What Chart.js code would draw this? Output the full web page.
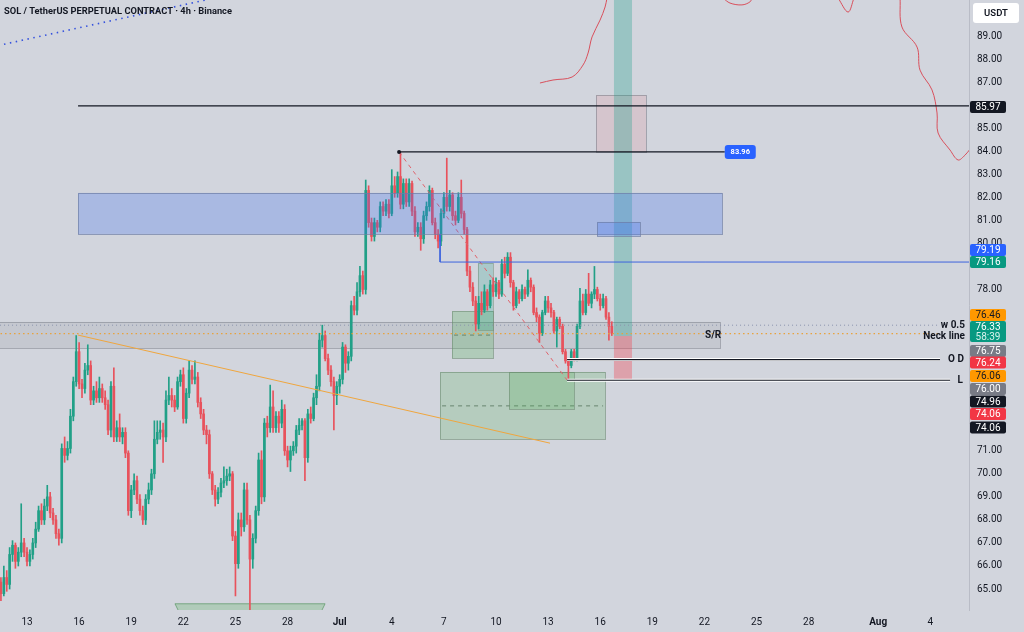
<!DOCTYPE html>
<html lang="en">
  <head>
    <meta charset="UTF-8" />
    <title>SOL / TetherUS PERPETUAL CONTRACT · 4h · Binance</title>
    <script src="https://cdn.jsdelivr.net/npm/chart.js"></script>
    <style>
      html, body { margin: 0; padding: 0; background: #d2d5dd; }
      #wrap { width: 1024px; height: 632px; }
    </style>
  </head>
  <body>
    <div id="wrap"><canvas id="chart" width="1024" height="632"></canvas></div>

    <script>
      // 4h candles, first one opens Jun 11 12:00 (x axis unit = day of June)
      const candleStartDay = 11.5;
      const candleStepDays = 1 / 6;

      const opens = [
        65.3, 64.8, 65.5, 65.2, 66.5, 66.9, 66.2, 66.6, 67.0, 66.6,
        66.2, 66.5, 67.0, 67.6, 68.4, 68.0, 68.6, 69.0, 68.3, 68.0,
        67.4, 67.2, 71.1, 70.8, 71.1, 72.5, 74.0, 75.3, 73.9, 73.7,
        74.5, 74.7, 73.2, 73.6, 73.3, 73.7, 73.3, 73.0, 71.9, 73.8,
        71.6, 72.0, 71.6, 71.8, 70.9, 68.4, 69.3, 69.7, 68.9, 68.4,
        68.0, 68.9, 69.3, 70.0, 71.5, 71.8, 71.9, 71.6, 73.2, 73.4,
        73.2, 72.9, 74.0, 74.3, 72.4, 73.5, 74.5, 74.1, 74.2, 73.1,
        72.6, 71.9, 71.7, 70.0, 69.3, 68.9, 69.2, 69.6, 69.7, 69.9,
        70.0, 67.3, 66.1, 68.0, 67.7, 69.3, 68.0, 66.3, 67.2, 68.4,
        70.6, 69.0, 72.2, 72.0, 72.9, 72.0, 72.5, 72.2, 72.8, 71.0,
        70.6, 71.0, 71.2, 71.9, 72.1, 72.3, 70.7, 72.6, 72.4, 73.3,
        73.8, 75.8, 76.0, 75.0, 74.5, 74.0, 73.4, 73.8, 74.1, 75.5,
        74.8, 75.1, 77.3, 77.1, 77.9, 78.6, 78.0, 82.3, 80.9, 80.3,
        80.9, 80.7, 81.6, 81.4, 81.7, 81.3, 82.5, 82.2, 82.9, 81.7,
        82.6, 81.8, 82.6, 81.4, 80.5, 80.7, 80.2, 81.2, 81.6, 82.3,
        80.9, 80.4, 80.1, 81.3, 82.0, 81.6, 82.1, 81.2, 81.0, 82.0,
        81.3, 80.6, 78.8, 78.1, 77.5, 76.5, 77.4, 77.1, 77.9, 77.3,
        78.2, 77.9, 78.3, 77.8, 79.1, 78.7, 79.4, 78.3, 77.3, 77.9,
        77.6, 78.0, 77.8, 78.4, 78.1, 77.0, 76.8, 76.1, 77.0, 77.5,
        77.2, 77.0, 76.2, 76.7, 76.4, 75.3, 74.9, 74.7, 75.3, 75.0,
        76.4, 77.5, 77.0, 77.8, 77.4, 77.8, 78.0, 77.6, 77.3, 77.6,
        76.8, 76.4
      ];
      const highs = [
        65.5, 66.0, 65.8, 66.8, 67.1, 67.0, 66.8, 68.7, 67.2, 66.8,
        66.7, 67.2, 67.9, 68.6, 68.7, 68.9, 69.5, 69.2, 68.5, 68.2,
        67.6, 71.3, 71.6, 71.4, 72.8, 74.2, 76.0, 75.7, 74.1, 74.8,
        75.6, 74.9, 73.8, 74.0, 74.2, 73.9, 73.6, 73.2, 74.0, 74.6,
        72.3, 72.6, 72.0, 72.0, 71.0, 69.5, 70.0, 69.9, 69.1, 68.6,
        69.1, 69.6, 70.2, 72.3, 72.3, 72.3, 72.2, 73.6, 74.2, 73.7,
        73.4, 74.2, 74.5, 74.6, 73.7, 74.9, 74.7, 74.9, 74.4, 73.3,
        72.8, 72.1, 71.9, 70.1, 69.5, 69.4, 69.8, 70.3, 70.2, 70.3,
        70.1, 67.5, 68.3, 68.3, 69.6, 69.6, 68.2, 67.4, 68.6, 70.9,
        71.0, 72.4, 72.5, 73.85, 73.6, 72.7, 72.7, 73.2, 73.0, 71.2,
        71.2, 71.4, 72.1, 72.4, 72.4, 72.4, 72.8, 72.9, 73.5, 74.3,
        76.1, 76.45, 76.2, 75.2, 74.7, 74.2, 74.0, 74.3, 75.7, 75.6,
        75.3, 77.5, 77.7, 78.3, 79.0, 78.8, 82.75, 82.5, 81.1, 81.1,
        81.0, 81.8, 81.8, 81.9, 81.9, 83.2, 82.9, 83.1, 83.95, 82.8,
        82.8, 82.8, 82.7, 81.6, 80.9, 80.9, 81.4, 81.8, 82.5, 82.4,
        81.1, 80.6, 81.5, 82.2, 83.7, 82.3, 82.2, 81.4, 82.2, 82.75,
        81.4, 80.7, 79.0, 78.3, 77.7, 77.7, 77.9, 78.2, 78.0, 78.4,
        78.5, 78.5, 78.4, 79.3, 79.4, 79.6, 79.6, 78.4, 78.1, 78.0,
        78.2, 78.1, 78.85, 78.5, 78.2, 77.2, 76.9, 77.1, 77.7, 77.7,
        77.4, 77.1, 76.8, 76.8, 76.5, 75.4, 75.0, 75.4, 75.4, 76.5,
        78.05, 77.8, 78.0, 78.7, 77.9, 79.0, 78.1, 77.8, 77.8, 77.7,
        77.0, 76.6
      ];
      const lows = [
        64.5, 64.7, 64.9, 65.0, 66.2, 65.9, 66.0, 66.4, 66.4, 66.0,
        66.0, 66.3, 66.8, 67.5, 67.8, 67.8, 68.4, 68.1, 67.8, 67.2,
        66.9, 67.0, 70.5, 70.6, 70.9, 72.3, 73.8, 73.7, 73.3, 73.5,
        74.3, 73.0, 73.0, 73.1, 73.1, 73.1, 72.8, 71.7, 71.6, 71.4,
        71.4, 71.4, 71.3, 70.7, 68.2, 68.1, 69.1, 68.7, 68.2, 67.8,
        67.8, 68.7, 69.1, 69.8, 71.3, 71.5, 70.5, 71.4, 73.0, 72.9,
        72.7, 72.8, 73.8, 72.2, 72.2, 73.3, 73.9, 73.9, 72.9, 72.4,
        71.7, 71.3, 69.8, 69.1, 68.6, 68.7, 69.0, 69.4, 69.5, 69.7,
        67.1, 64.7, 65.9, 67.3, 67.5, 67.8, 64.1, 65.9, 67.0, 68.2,
        68.7, 68.8, 71.6, 71.8, 71.8, 71.8, 71.8, 72.0, 70.8, 70.3,
        70.1, 70.8, 70.9, 71.7, 71.9, 69.7, 70.5, 72.2, 72.3, 73.0,
        73.6, 75.5, 74.9, 74.3, 73.8, 71.9, 73.0, 73.5, 73.9, 74.4,
        74.5, 74.9, 76.9, 76.9, 77.7, 77.8, 77.8, 80.7, 80.1, 80.1,
        80.5, 80.5, 81.2, 81.2, 81.1, 81.2, 82.0, 82.0, 81.5, 81.5,
        81.6, 81.6, 81.2, 80.3, 80.3, 79.7, 80.0, 81.0, 81.4, 80.8,
        80.2, 79.8, 79.9, 81.1, 81.4, 81.4, 81.0, 80.8, 80.9, 81.1,
        80.4, 78.6, 77.9, 77.3, 76.2, 76.3, 76.9, 77.0, 77.1, 77.2,
        77.7, 77.7, 77.6, 77.7, 78.5, 78.6, 78.1, 77.1, 77.2, 77.4,
        77.5, 77.6, 77.7, 77.9, 76.9, 76.6, 75.7, 76.0, 76.9, 77.0,
        76.8, 76.1, 75.5, 76.3, 75.2, 74.8, 74.07, 74.6, 74.9, 74.9,
        76.3, 76.9, 76.9, 77.3, 77.2, 77.6, 77.5, 77.1, 77.2, 76.7,
        75.8, 76.0
      ];
      const closes = [
        64.8, 65.5, 65.2, 66.5, 66.9, 66.2, 66.6, 67.0, 66.6, 66.2,
        66.5, 67.0, 67.6, 68.4, 68.0, 68.6, 69.0, 68.3, 68.0, 67.4,
        67.2, 71.1, 70.8, 71.1, 72.5, 74.0, 75.3, 73.9, 73.7, 74.5,
        74.7, 73.2, 73.6, 73.3, 73.7, 73.3, 73.0, 71.9, 73.8, 71.6,
        72.0, 71.6, 71.8, 70.9, 68.4, 69.3, 69.7, 68.9, 68.4, 68.0,
        68.9, 69.3, 70.0, 71.5, 71.8, 71.9, 71.6, 73.2, 73.4, 73.2,
        72.9, 74.0, 74.3, 72.4, 73.5, 74.5, 74.1, 74.2, 73.1, 72.6,
        71.9, 71.7, 70.0, 69.3, 68.9, 69.2, 69.6, 69.7, 69.9, 70.0,
        67.3, 66.1, 68.0, 67.7, 69.3, 68.0, 66.3, 67.2, 68.4, 70.6,
        69.0, 72.2, 72.0, 72.9, 72.0, 72.5, 72.2, 72.8, 71.0, 70.6,
        71.0, 71.2, 71.9, 72.1, 72.3, 70.7, 72.6, 72.4, 73.3, 73.8,
        75.8, 76.0, 75.0, 74.5, 74.0, 73.4, 73.8, 74.1, 75.5, 74.8,
        75.1, 77.3, 77.1, 77.9, 78.6, 78.0, 82.3, 80.9, 80.3, 80.9,
        80.7, 81.6, 81.4, 81.7, 81.3, 82.5, 82.2, 82.9, 81.7, 82.6,
        81.8, 82.6, 81.4, 80.5, 80.7, 80.2, 81.2, 81.6, 82.3, 80.9,
        80.4, 80.1, 81.3, 82.0, 81.6, 82.1, 81.2, 81.0, 82.0, 81.3,
        80.6, 78.8, 78.1, 77.5, 76.5, 77.4, 77.1, 77.9, 77.3, 78.2,
        77.9, 78.3, 77.8, 79.1, 78.7, 79.4, 78.3, 77.3, 77.9, 77.6,
        78.0, 77.8, 78.4, 78.1, 77.0, 76.8, 76.1, 77.0, 77.5, 77.2,
        77.0, 76.2, 76.7, 76.4, 75.3, 74.9, 74.7, 75.3, 75.0, 76.4,
        77.5, 77.0, 77.8, 77.4, 77.8, 78.0, 77.6, 77.3, 77.6, 76.8,
        76.4, 76.1
      ];

      // axis ticks
      const xTickDays = [13, 16, 19, 22, 25, 28, 31, 34, 37, 40, 43, 46, 49, 52, 55, 58, 62, 65];
      const xTickLabels = ["13", "16", "19", "22", "25", "28", "Jul", "4", "7", "10", "13", "16", "19", "22", "25", "28", "Aug", "4"];
      const yTickValues = [65, 66, 67, 68, 69, 70, 71, 78, 80, 81, 82, 83, 84, 85, 87, 88, 89];

      // drawn price levels
      const levelTop = 85.97;
      const levelHigh = 83.97;
      const levelBlue = 79.19;
      const levelHalf = 76.45;
      const levelNeck = 76.08;
      const levelOD = 74.96;
      const levelL = 74.06;

      // trend / hand drawn lines, [day, price]
      const trendLine = [[15.94, 76.02], [43.11, 71.33]];
      const dropLine = [[34.42, 83.97], [44.09, 74.07]];
      const dottedRay = [[11.0, 88.53], [24.0, 90.68]];
      const redCurves = [
        [[42.53, 86.96], [43.28, 87.09], [44.38, 87.22], [45.01, 87.74], [45.30, 88.26], [45.53, 88.96], [45.99, 89.69], [46.28, 90.26], [46.39, 90.65]],
        [[53.07, 90.65], [53.47, 90.43], [54.16, 90.35], [54.62, 90.48], [54.74, 90.65]],
        [[59.69, 90.65], [60.27, 90.04], [60.61, 90.65]],
        [[63.26, 90.65], [63.37, 89.39], [64.24, 88.52], [64.41, 87.52], [65.10, 86.66], [65.39, 85.66], [65.45, 84.79], [66.14, 84.05], [66.60, 83.62], [67.0, 83.83], [67.3, 84.1]]
      ];

      // boxes: [fromDay, toDay, topPrice, bottomPrice]
      const srZone = [5, 52.9, 76.59, 75.46];
      const supplyZone = [15.94, 53.01, 82.19, 80.41];
      const smallBlueBox = [45.82, 48.29, 80.93, 80.32];
      const pinkBox = [45.76, 48.64, 86.44, 83.97];
      const targetBand = [46.79, 47.83, 95, 75.98];
      const stopBand = [46.79, 47.83, 75.98, 74.07];
      const greenBoxA = [37.47, 39.83, 77.06, 75.02];
      const greenBoxB = [38.96, 39.83, 79.15, 76.24];
      const greenBoxC = [36.78, 46.28, 74.42, 71.51];
      const greenBoxD = [40.75, 44.49, 74.42, 72.81];
      const bottomBand = [21.52, 30.16, 64.36, 64.05];

      // price tags on the right axis
      const priceTags = [
        { text: "85.97", bg: "#131722", fg: "#ffffff" },
        { text: "79.19", bg: "#2962ff", fg: "#ffffff" },
        { text: "79.16", bg: "#089981", fg: "#ffffff" },
        { text: "76.46", bg: "#ff9800", fg: "#131722" },
        { text: "76.33", bg: "#089981", fg: "#ffffff", sub: "58:39" },
        { text: "76.75", bg: "#787b86", fg: "#ffffff" },
        { text: "76.24", bg: "#f23645", fg: "#ffffff" },
        { text: "76.06", bg: "#ff9800", fg: "#131722" },
        { text: "76.00", bg: "#787b86", fg: "#ffffff" },
        { text: "74.96", bg: "#131722", fg: "#ffffff" },
        { text: "74.06", bg: "#f23645", fg: "#ffffff" },
        { text: "74.06", bg: "#131722", fg: "#ffffff" }
      ];
      const priceTagY = [107, 250, 262, 315, 327, 351, 362.5, 376, 389, 401.5, 414, 427.5];

      const FONT = "Roboto, 'Noto Sans', sans-serif";
      const BG = "#d2d5dd";
      const UP = "#21a087";
      const DOWN = "#e8525c";

      const candleDays = opens.map((_, i) => candleStartDay + i * candleStepDays);
      const candleColors = opens.map((o, i) => (closes[i] >= o ? UP : DOWN));

      const pts = (arr) => arr.map(([d, p]) => ({ x: d, y: p }));
      const hLine = (from, to, price) => [{ x: from, y: price }, { x: to, y: price }];

      function lineSet(data, color, width, extra) {
        return Object.assign(
          {
            type: "line",
            data: data,
            borderColor: color,
            borderWidth: width,
            pointRadius: 0,
            pointHoverRadius: 0,
            fill: false,
            order: 1,
          },
          extra || {}
        );
      }

      const datasets = [
        lineSet(hLine(15.94, 70, levelTop), "#131722", 1.3),
        lineSet(hLine(34.42, 53.17, levelHigh), "#131722", 1.3),
        lineSet([{ x: 36.78, y: supplyZone[3] }, { x: 36.78, y: levelBlue }, { x: 70, y: levelBlue }], "#3d63dd", 1),
        lineSet(hLine(44.09, 65.56, levelOD), "#ffffff", 3, { order: 2 }),
        lineSet(hLine(44.09, 65.56, levelOD), "#131722", 1.2),
        lineSet(hLine(44.09, 66.14, levelL), "#ffffff", 3, { order: 2 }),
        lineSet(hLine(44.09, 66.14, levelL), "#131722", 1.2),
        lineSet(hLine(5, 65.5, levelHalf), "#8a93ad", 1, { borderDash: [1, 3] }),
        lineSet(hLine(5, 65.6, levelNeck), "#e9a23b", 1.2, { borderDash: [1.5, 3] }),
        lineSet(pts(trendLine), "#f0a63e", 1),
        lineSet(pts(dropLine), "#e0636c", 1, { borderDash: [4, 4] }),
        lineSet(pts(dottedRay), "#3552de", 1.6, { borderDash: [1.5, 4.5] }),
        ...redCurves.map((c) => lineSet(pts(c), "#d9505c", 1, { tension: 0.35 })),
        {
          type: "bar",
          data: candleDays.map((d, i) => ({ x: d, y: [opens[i], closes[i]] })),
          backgroundColor: candleColors,
          barThickness: 2,
          minBarLength: 1,
          grouped: false,
          order: 10,
        },
        {
          type: "bar",
          data: candleDays.map((d, i) => ({ x: d, y: [lows[i], highs[i]] })),
          backgroundColor: candleColors,
          barThickness: 1,
          grouped: false,
          order: 11,
        },
      ];

      function box(ctx, x, y, b) {
        const x0 = x.getPixelForValue(b[0]);
        const x1 = x.getPixelForValue(b[1]);
        const y0 = y.getPixelForValue(b[2]);
        const y1 = y.getPixelForValue(b[3]);
        return [x0, y0, x1 - x0, y1 - y0];
      }

      function fillBox(ctx, r, fill, stroke) {
        ctx.fillStyle = fill;
        ctx.fillRect(r[0], r[1], r[2], r[3]);
        if (stroke) {
          ctx.strokeStyle = stroke;
          ctx.lineWidth = 1;
          ctx.strokeRect(Math.round(r[0]) + 0.5, Math.round(r[1]) + 0.5, Math.round(r[2]), Math.round(r[3]));
        }
      }

      function dashAcross(ctx, r, yPix, color) {
        ctx.save();
        ctx.strokeStyle = color;
        ctx.setLineDash([4, 4]);
        ctx.lineWidth = 1.2;
        ctx.beginPath();
        ctx.moveTo(r[0] + 2, yPix);
        ctx.lineTo(r[0] + r[2] - 2, yPix);
        ctx.stroke();
        ctx.restore();
      }

      const drawings = {
        id: "drawings",
        beforeDraw(chart) {
          const c = chart.ctx;
          c.save();
          c.fillStyle = BG;
          c.fillRect(0, 0, chart.width, chart.height);
          c.restore();
        },
        beforeDatasetsDraw(chart) {
          const { ctx, chartArea: a, scales } = chart;
          const x = scales.x, y = scales.y;
          ctx.save();
          ctx.beginPath();
          ctx.rect(a.left, a.top, a.right - a.left, a.bottom - a.top);
          ctx.clip();

          fillBox(ctx, box(ctx, x, y, srZone), "rgba(120,123,134,0.14)", "rgba(120,123,134,0.5)");
          fillBox(ctx, box(ctx, x, y, pinkBox), "rgba(242,54,69,0.10)", "rgba(120,123,134,0.55)");
          fillBox(ctx, box(ctx, x, y, targetBand), "rgba(8,153,129,0.28)");
          fillBox(ctx, box(ctx, x, y, stopBand), "rgba(242,54,69,0.33)");
          fillBox(ctx, box(ctx, x, y, greenBoxC), "rgba(76,175,80,0.22)", "rgba(110,140,115,0.6)");
          dashAcross(ctx, box(ctx, x, y, greenBoxC), y.getPixelForValue(72.95), "rgba(90,120,95,0.7)");
          fillBox(ctx, box(ctx, x, y, greenBoxD), "rgba(76,175,80,0.22)", "rgba(110,140,115,0.6)");
          fillBox(ctx, box(ctx, x, y, greenBoxA), "rgba(76,175,80,0.25)", "rgba(110,140,115,0.6)");
          dashAcross(ctx, box(ctx, x, y, greenBoxA), y.getPixelForValue(76.02), "rgba(90,120,95,0.7)");
          fillBox(ctx, box(ctx, x, y, greenBoxB), "rgba(8,153,129,0.2)", "rgba(110,140,115,0.5)");

          // bottom band with slanted ends
          const r = box(ctx, x, y, bottomBand);
          ctx.fillStyle = "rgba(76,175,80,0.25)";
          ctx.strokeStyle = "rgba(90,150,100,0.7)";
          ctx.beginPath();
          ctx.moveTo(r[0], r[1]);
          ctx.lineTo(r[0] + r[2], r[1]);
          ctx.lineTo(r[0] + r[2] - 4, r[1] + r[3] + 1);
          ctx.lineTo(r[0] + 4, r[1] + r[3] + 1);
          ctx.closePath();
          ctx.fill();
          ctx.stroke();
          ctx.restore();
        },
        afterDatasetsDraw(chart) {
          const { ctx, chartArea: a, scales } = chart;
          const x = scales.x, y = scales.y;
          ctx.save();
          ctx.beginPath();
          ctx.rect(a.left, a.top, a.right - a.left, a.bottom - a.top);
          ctx.clip();

          fillBox(ctx, box(ctx, x, y, supplyZone), "rgba(60,110,240,0.27)", "rgba(110,125,165,0.7)");
          fillBox(ctx, box(ctx, x, y, smallBlueBox), "rgba(60,110,240,0.27)", "rgba(110,125,165,0.7)");

          // swing high marker
          ctx.fillStyle = "#131722";
          ctx.beginPath();
          ctx.arc(x.getPixelForValue(34.42), y.getPixelForValue(levelHigh), 2, 0, Math.PI * 2);
          ctx.fill();

          // blue price pill at the end of the high line
          const px = x.getPixelForValue(53.17);
          const py = y.getPixelForValue(levelHigh);
          ctx.fillStyle = "#2962ff";
          ctx.beginPath();
          ctx.roundRect(px, py - 7, 31, 14, 3);
          ctx.fill();
          ctx.fillStyle = "#ffffff";
          ctx.font = "bold 7.5px " + FONT;
          ctx.textAlign = "center";
          ctx.textBaseline = "middle";
          ctx.fillText("83.96", px + 15.5, py + 0.5);

          ctx.fillStyle = "#131722";
          ctx.font = "bold 10px " + FONT;
          ctx.textAlign = "center";
          ctx.fillText("S/R", x.getPixelForValue(52.5), y.getPixelForValue(76.02));
          ctx.textAlign = "right";
          ctx.fillText("w 0.5", 965, y.getPixelForValue(levelHalf) + 0.5);
          ctx.fillText("Neck line", 965, y.getPixelForValue(76.0) + 1);
          ctx.fillText("O D", 964, y.getPixelForValue(levelOD));
          ctx.fillText("L", 963, y.getPixelForValue(levelL));
          ctx.restore();
        },
        afterDraw(chart) {
          const ctx = chart.ctx;
          ctx.save();
          ctx.textBaseline = "middle";

          ctx.font = "bold 9.3px " + FONT;
          ctx.fillStyle = "#131722";
          ctx.textAlign = "left";
          ctx.fillText("SOL / TetherUS PERPETUAL CONTRACT · 4h · Binance", 4, 12);

          // currency box
          ctx.fillStyle = "#ffffff";
          ctx.beginPath();
          ctx.roundRect(973, 3, 46, 20, 3);
          ctx.fill();
          ctx.fillStyle = "#131722";
          ctx.font = "600 9.5px " + FONT;
          ctx.textAlign = "center";
          ctx.fillText("USDT", 996, 13.5);

          ctx.font = "10px " + FONT;
          priceTags.forEach((t, i) => {
            const cy = priceTagY[i];
            const h = t.sub ? 21 : 12;
            ctx.fillStyle = t.bg;
            ctx.beginPath();
            ctx.roundRect(970, cy - 6, 36, h, 2);
            ctx.fill();
            ctx.fillStyle = t.fg;
            ctx.fillText(t.text, 988, cy + 0.5);
            if (t.sub) {
              ctx.fillStyle = "#d7f2ec";
              ctx.fillText(t.sub, 988, cy + 10.5);
            }
          });
          ctx.restore();
        },
      };

      new Chart(document.getElementById("chart"), {
        type: "bar",
        data: { datasets: datasets },
        options: {
          responsive: false,
          devicePixelRatio: 1,
          animation: false,
          layout: { padding: 0, autoPadding: false },
          plugins: { legend: { display: false }, tooltip: { enabled: false } },
          scales: {
            x: {
              type: "linear",
              min: 11.4456,
              max: 67.23,
              offset: false,
              grid: { display: false, drawTicks: false },
              border: { display: false },
              afterBuildTicks: (s) => { s.ticks = xTickDays.map((v) => ({ value: v })); },
              afterFit: (s) => {
                s.height = 22;
                s.paddingLeft = 0;
                s.paddingRight = 0;
              },
              ticks: {
                autoSkip: false,
                maxRotation: 0,
                padding: 6,
                color: "#131722",
                font: (c) => ({
                  family: FONT,
                  size: 10,
                  weight: c.tick && (c.tick.label === "Jul" || c.tick.label === "Aug") ? "bold" : "normal",
                }),
                callback: (v) => xTickLabels[xTickDays.indexOf(v)],
              },
            },
            y: {
              type: "linear",
              position: "right",
              min: 64.09,
              max: 90.5625,
              grid: { display: false, drawTicks: false },
              border: { display: true, color: "#b9bcc6" },
              afterBuildTicks: (s) => { s.ticks = yTickValues.map((v) => ({ value: v })); },
              afterFit: (s) => {
                s.width = 55;
                s.paddingTop = 0;
                s.paddingBottom = 0;
              },
              ticks: {
                padding: 8,
                color: "#131722",
                font: { family: FONT, size: 10 },
                callback: (v) => v.toFixed(2),
              },
            },
          },
        },
        plugins: [drawings],
      });
    </script>
  </body>
</html>
